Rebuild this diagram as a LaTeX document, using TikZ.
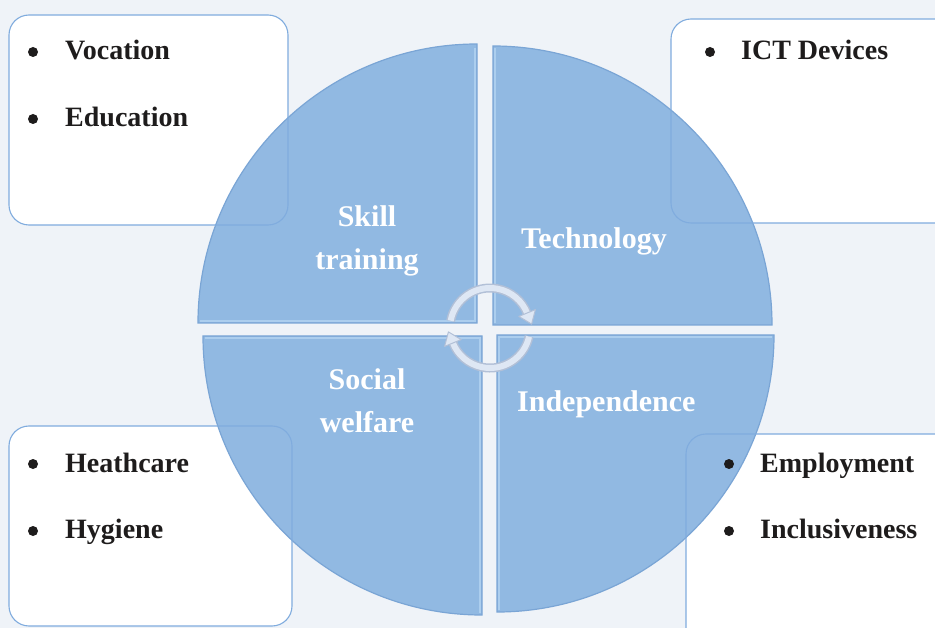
\documentclass[tikz,border=0pt]{standalone}
\usepackage{fontspec}
\setmainfont{Liberation Serif}
\definecolor{bgc}{RGB}{239,243,248}
\definecolor{quad}{RGB}{141,182,225}
\definecolor{quadedge}{RGB}{122,165,213}
\definecolor{quadlight}{RGB}{172,206,238}
\definecolor{boxedge}{RGB}{128,172,222}
\definecolor{ringc}{RGB}{222,231,244}
\definecolor{ringedge}{RGB}{178,192,215}
\definecolor{txt}{RGB}{30,28,28}
\tikzset{
  infobox/.style={fill=white, rounded corners=20pt},
  boxline/.style={draw=boxedge, line width=1.1pt, rounded corners=20pt},
  quadrant/.style={fill=quad, fill opacity=0.95, draw=quadedge, line width=1.2pt},
  item/.style={anchor=base west, inner sep=0pt, text=txt, font=\bfseries\fontsize{28}{32}\selectfont},
  label/.style={inner sep=0pt, text=white, font=\bfseries\fontsize{30}{34}\selectfont},
  bulletdot/.style={fill=txt},
  ringouter/.style={line width=9pt, draw=ringedge, line cap=butt},
  ringinner/.style={line width=6pt, draw=ringc, line cap=butt},
  ringtip/.style={fill=ringc, draw=ringedge, line width=1pt, line join=round}
}
\begin{document}
\begin{tikzpicture}[x=1pt,y=-1pt]
\useasboundingbox (0,0) rectangle (935,628);
\clip (0,0) rectangle (935,628);
\fill[bgc] (0,0) rectangle (935,628);

% box backgrounds
\fill[infobox] (9,15) rectangle (288,225);
\fill[infobox] (671,19) rectangle (960,223);
\fill[infobox] (9,426) rectangle (292,626);
\fill[infobox] (686,434) rectangle (960,660);

% quadrants
\path[quadrant] (477,323) -- (198,323) arc[start angle=180, end angle=270, radius=279] -- cycle;
\path[quadrant] (493,325) -- (493,46) arc[start angle=270, end angle=360, radius=279] -- cycle;
\path[quadrant] (482,336) -- (203,336) arc[start angle=180, end angle=90, radius=279] -- cycle;
\path[quadrant] (497,335) -- (774,335) arc[start angle=0, end angle=90, radius=277] -- cycle;
% light rims on straight edges
\draw[quadlight, line width=1.5pt] (200,321) -- (475,321) -- (475,48);
\draw[quadlight, line width=1.5pt] (495,323) -- (495,48);
\draw[quadlight, line width=1.5pt] (205,338) -- (480,338) -- (480,613);
\draw[quadlight, line width=1.5pt] (499,610) -- (499,337) -- (772,337);

% box outlines
\draw[boxline] (9,15) rectangle (288,225);
\draw[boxline] (671,19) rectangle (960,223);
\draw[boxline] (9,426) rectangle (292,626);
\draw[boxline] (686,434) rectangle (960,660);

% circular arrows
\coordinate (ring) at (490,328);
\draw[ringouter] (ring) ++(190:40) arc[start angle=190, end angle=339, radius=40];
\draw[ringinner] (ring) ++(190.5:40) arc[start angle=190.5, end angle=339, radius=40];
\fill[ringtip] (535.4,309.6) -- (531.6,324.1) -- (518.8,316.4) -- cycle;
\draw[ringouter] (ring) ++(12:40) arc[start angle=12, end angle=159, radius=40];
\draw[ringinner] (ring) ++(12.5:40) arc[start angle=12.5, end angle=159, radius=40];
\fill[ringtip] (444.6,346.4) -- (448.4,331.9) -- (461.2,339.6) -- cycle;

% quadrant labels
\node[label, anchor=base] (skill) at (367,227) {Skill};
\node[label, anchor=base] (training) at (367,270) {training};
\node[label, anchor=base west] (tech) at (521,249) {Technology};
\node[label, anchor=base] (social) at (367,390) {Social};
\node[label, anchor=base] (welfare) at (367,432) {welfare};
\node[label, anchor=base west] (indep) at (517,411) {Independence};

% list items
\fill[bulletdot] (33,52) circle (5);
\node[item] (voc) at (65,60) {Vocation};
\fill[bulletdot] (33,119) circle (5);
\node[item] (edu) at (65,127) {Education};
\fill[bulletdot] (710,52) circle (5);
\node[item] (ict) at (741,60) {ICT Devices};
\fill[bulletdot] (33,464) circle (5);
\node[item] (heath) at (65,472) {Heathcare};
\fill[bulletdot] (33,531) circle (5);
\node[item] (hyg) at (65,538) {Hygiene};
\fill[bulletdot] (729,464) circle (5);
\node[item] (emp) at (760,472) {Employment};
\fill[bulletdot] (729,531) circle (5);
\node[item] (incl) at (760,538) {Inclusiveness};
\end{tikzpicture}
\end{document}
